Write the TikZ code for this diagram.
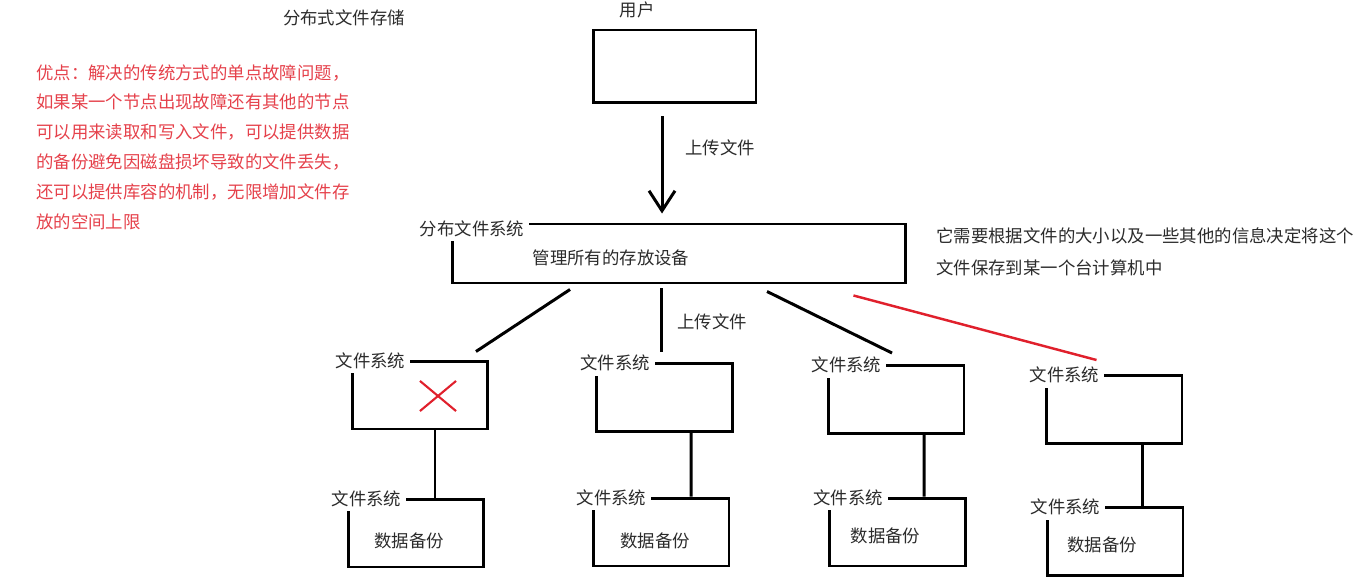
\documentclass[tikz,border=0pt]{standalone}
\usepackage{fontspec}
\setmainfont{Noto Sans CJK SC}
\usepackage{xcolor}
\usepackage{tikz}
\usetikzlibrary{calc,arrows.meta,shapes.misc}
\definecolor{inkGrey}{HTML}{2B2B2B}
\definecolor{noteRed}{HTML}{E5414B}
\definecolor{failRed}{HTML}{E0202C}
\newcommand{\diagfont}{\fontsize{9.9pt}{17pt}\selectfont}
\tikzset{
  userbox/.style={rectangle, draw=black, line width=1.7pt, minimum width=3.26cm, minimum height=1.46cm, inner sep=0pt},
  mgrbox/.style={rectangle, draw=black, line width=1.7pt, minimum width=9.08cm, minimum height=1.18cm, inner sep=0pt},
  fsbox/.style={rectangle, draw=black, line width=1.7pt, minimum width=2.72cm, minimum height=1.36cm, inner sep=0pt},
  boxtag/.style={rectangle, fill=white, font=\diagfont, text=inkGrey, inner xsep=0.1cm, inner ysep=0.09cm},
  plaintext/.style={font=\diagfont, text=inkGrey, inner sep=0pt},
  notetext/.style={font=\fontsize{9.9pt}{17pt}\selectfont, text=noteRed, align=left, inner sep=0pt},
  linkline/.style={line width=1.7pt, draw=black},
  faillink/.style={line width=1.4pt, draw=failRed},
  uploadarrow/.style={-{Straight Barb[length=0.4cm, width=0.52cm]}, line width=1.7pt, draw=black},
  % --- broken storage node ---
  failmark/.style={cross out, draw=failRed, line width=1.2pt, minimum width=0.68cm, minimum height=0.56cm, inner sep=0pt},
}

\begin{document}
\begin{tikzpicture}[x=0.02cm, y=-0.02cm]
  \useasboundingbox (0,0) rectangle (1362,584);

  \node[plaintext] (title) at (344,18) {分布式文件存储};
  \node[notetext, anchor=north west] (pros) at (36,64) {优点：解决的传统方式的单点故障问题，\\如果某一个节点出现故障还有其他的节点\\可以用来读取和写入文件，可以提供数据\\的备份避免因磁盘损坏导致的文件丢失，\\还可以提供库容的机制，无限增加文件存\\放的空间上限};
  \node[plaintext, align=left, anchor=north west, font=\fontsize{9.9pt}{18.2pt}\selectfont] (hint) at (936,227) {它需要根据文件的大小以及一些其他的信息决定将这个\\文件保存到某一个台计算机中};

  \node[plaintext] (userlbl) at (637,10) {用户};
  \node[userbox] (user) at (674.5,66.5) {};
  \node[mgrbox] (mgr) at (679,253.5) {};
  \node[boxtag] (mgrtag) at ($(mgr.north west)+(21.5,6)$) {分布文件系统};
  \node[plaintext] (mgrtext) at (611,258) {管理所有的存放设备};
  \draw[uploadarrow] ($(user.south)+(-12.5,12)$) -- ($(mgr.north)+(-17,-9)$);
  \node[plaintext] (uplbl) at (720,148) {上传文件};

  \node[fsbox] (fs1) at (420,395) {};
  \node[boxtag] (fs1tag) at ($(fs1.north west)+(20,1)$) {文件系统};
  \node[failmark] (fail) at (438,396) {};
  \node[fsbox] (bk1) at (416,533) {};
  \node[boxtag] (bk1tag) at ($(bk1.north west)+(20,1)$) {文件系统};
  \node[plaintext] (bk1text) at ($(bk1.center)+(-7,8)$) {数据备份};
  \draw[linkline] ($(fs1.south)+(15,0)$) -- ($(bk1.north)+(19,0)$);

  \node[fsbox] (fs2) at (664.5,397.5) {};
  \node[boxtag] (fs2tag) at ($(fs2.north west)+(20,1)$) {文件系统};
  \node[fsbox] (bk2) at (661,532) {};
  \node[boxtag] (bk2tag) at ($(bk2.north west)+(20,1)$) {文件系统};
  \node[plaintext] (bk2text) at ($(bk2.center)+(-6,9)$) {数据备份};
  \draw[linkline] ($(fs2.south)+(26.5,0)$) -- ($(bk2.north)+(30,0)$);

  \node[fsbox] (fs3) at (896,399.5) {};
  \node[boxtag] (fs3tag) at ($(fs3.north west)+(20,1)$) {文件系统};
  \node[fsbox] (bk3) at (897.5,532) {};
  \node[boxtag] (bk3tag) at ($(bk3.north west)+(20,1)$) {文件系统};
  \node[plaintext] (bk3text) at ($(bk3.center)+(-12,4)$) {数据备份};
  \draw[linkline] ($(fs3.south)+(28,0)$) -- ($(bk3.north)+(26.5,0)$);

  \node[fsbox] (fs4) at (1114,409.5) {};
  \node[boxtag] (fs4tag) at ($(fs4.north west)+(20,1)$) {文件系统};
  \node[fsbox] (bk4) at (1115,541.5) {};
  \node[boxtag] (bk4tag) at ($(bk4.north west)+(20,1)$) {文件系统};
  \node[plaintext] (bk4text) at ($(bk4.center)+(-13,3.5)$) {数据备份};
  \draw[linkline] ($(fs4.south)+(28,0)$) -- ($(bk4.north)+(27,0)$);

  \draw[linkline] ($(mgr.south)+(-109,5)$) -- ($(fs1.north)+(56,-8)$);
  \draw[linkline] ($(mgr.south)+(-18,4)$) -- ($(fs2.north)+(-3.5,-10)$);
  \node[plaintext] (uplbl2) at (712,322) {上传文件};
  \draw[linkline] ($(mgr.south)+(88,7)$) -- ($(fs3.north)+(-4,-11)$);
  \draw[faillink] ($(mgr.south east)+(-54,11)$) -- ($(fs4.north west)+(52,-14)$);
\end{tikzpicture}
\end{document}
